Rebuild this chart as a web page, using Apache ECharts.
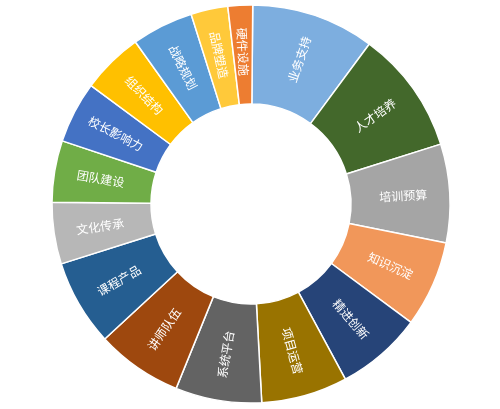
<!DOCTYPE html>
<html>
<head>
<meta charset="utf-8">
<script src="https://cdn.jsdelivr.net/npm/echarts@6/dist/echarts.min.js"></script>
<style>
html,body{margin:0;padding:0;background:#fff;}
#chart{width:500px;height:409px;}
</style>
</head>
<body>
<div id="chart"></div>
<script>
const categories = ['业务支持','人才培养','培训预算','知识沉淀','精进创新','项目运营','系统平台','讲师队伍','课程产品','文化传承','团队建设','校长影响力','组织结构','战略规划','品牌塑造','硬件设施'];
const values = [10,10,8,7,7,7,7,7,7,5,5,5,5,5,3,2];
const colors = ['#7DAEDF','#43682B','#A5A5A5','#F1975A','#264478','#997300','#636363','#9E480E','#255E91','#B7B7B7','#70AD47','#4472C4','#FFC000','#5B9BD5','#FFC93A','#ED7D31'];

const chart = echarts.init(document.getElementById('chart'));
chart.setOption({
  backgroundColor: '#fff',
  animation: false,
  series: [{
    type: 'pie',
    center: [251, 204],
    radius: [100, 199],
    startAngle: 89.5,
    clockwise: true,
    avoidLabelOverlap: false,
    itemStyle: { borderColor: '#fff', borderWidth: 1.5 },
    label: {
      show: true,
      position: 'inside',
      rotate: 'radial',
      color: '#fff',
      fontSize: 12,
      fontFamily: 'Noto Sans CJK SC',
      formatter: '{b}'
    },
    labelLine: { show: false },
    emphasis: { disabled: true },
    data: categories.map((c, i) => ({ name: c, value: values[i], itemStyle: { color: colors[i] } }))
  }]
});
</script>
</body>
</html>
